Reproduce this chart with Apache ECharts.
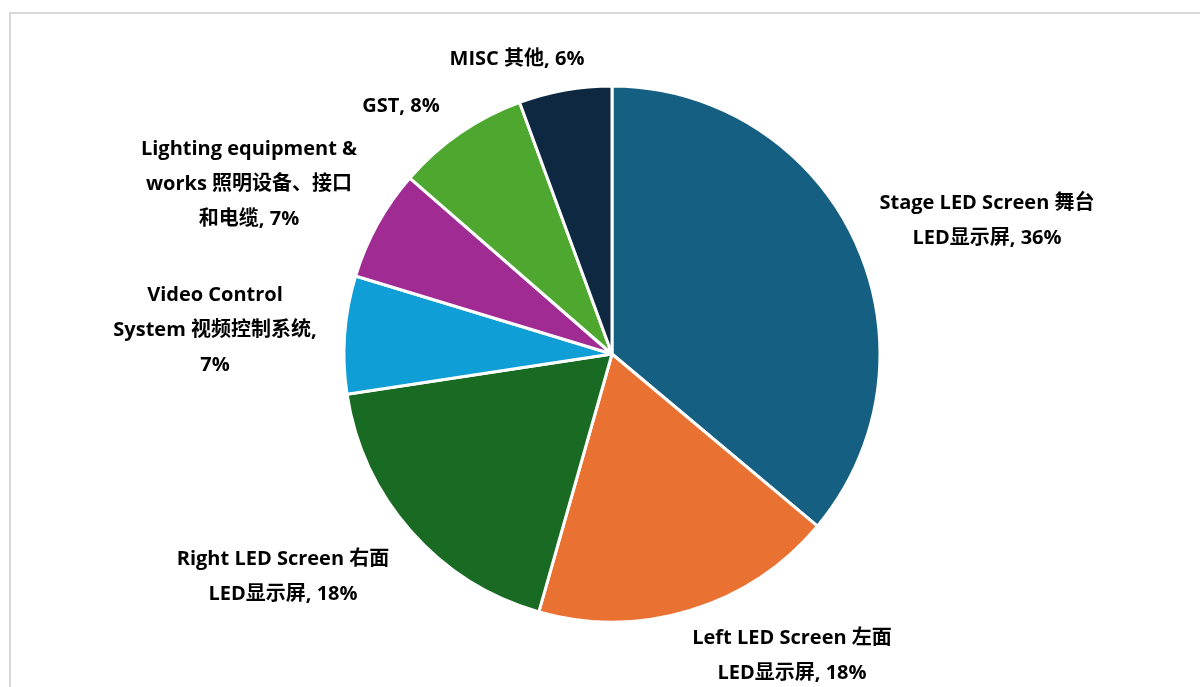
<!DOCTYPE html>
<html>
<head>
<meta charset="utf-8">
<script src="https://cdn.jsdelivr.net/npm/echarts@6/dist/echarts.min.js"></script>
<style>
  html, body { margin: 0; padding: 0; background: #fff; overflow: hidden; }
  #frame {
    position: absolute; left: 9px; top: 12px;
    width: 1400px; height: 900px;
    border: 2px solid #d9d9d9;
  }
  #chart { position: absolute; left: 0; top: 0; width: 1200px; height: 687px; }
</style>
</head>
<body>
<div id="frame"></div>
<div id="chart"></div>
<script>
/* ---------- 数据 ---------- */
const categories = [
  'Stage LED Screen 舞台\nLED显示屏',
  'Left LED Screen 左面\nLED显示屏',
  'Right LED Screen 右面\nLED显示屏',
  'Video Control\nSystem 视频控制系统,\n',
  'Lighting equipment &\nworks 照明设备、接口\n和电缆',
  'GST',
  'MISC 其他'
]
const values = [36.1, 18.3, 18.2, 7.1, 6.7, 8.0, 5.6]

/* ---------- 颜色 ---------- */
const colors = ['#156082', '#e97132', '#196b24', '#0f9ed5', '#a02b93', '#4ea72e', '#0e2841']

/* label centres (layout only) */
const labelPos = [
  [987, 221], [792, 656], [283, 577], [215, 330],
  [249, 184], [401, 106], [517, 59]
]

const chart = echarts.init(document.getElementById('chart'))

chart.setOption({
  animation: false,
  series: [
    {
      type: 'pie',
      center: [612, 354],
      radius: [0, 268],
      startAngle: 90,
      clockwise: true,
      itemStyle: { borderColor: '#fff', borderWidth: 3 },
      labelLine: { show: false },
      label: {
        show: true,
        position: 'outside',
        color: '#000',
        fontFamily: '"Open Sans", "Noto Sans CJK SC", sans-serif',
        fontWeight: 'bold',
        fontSize: 20,
        lineHeight: 35,
        align: 'center',
        formatter: (p) => {
          const pct = Math.round(p.percent) + '%'
          if (p.name.endsWith(',\n')) return p.name + pct
          return p.name + ', ' + pct
        }
      },
      labelLayout: (p) => ({
        x: labelPos[p.dataIndex][0],
        y: labelPos[p.dataIndex][1],
        align: 'center',
        verticalAlign: 'middle'
      }),
      data: categories.map((name, idx) => ({
        name,
        value: values[idx],
        itemStyle: { color: colors[idx] }
      }))
    }
  ]
})
</script>
</body>
</html>
